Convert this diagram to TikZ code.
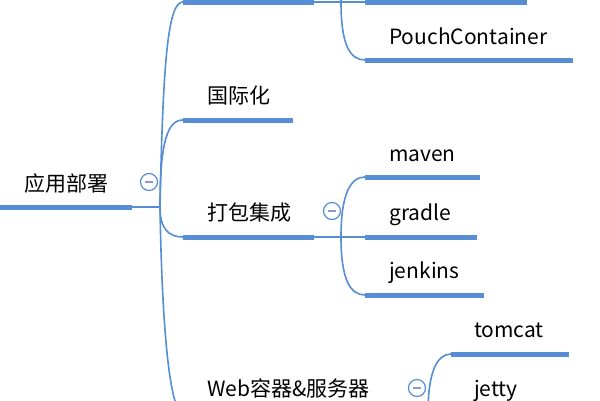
\documentclass[tikz,border=0pt]{standalone}
\usepackage{fontspec}
\setmainfont{Noto Sans CJK SC}
\definecolor{mblue}{RGB}{86,141,212}
\definecolor{mgray}{RGB}{140,155,195}
\begin{document}
\begin{tikzpicture}[x=1pt,y=-1pt,
  lbl/.style={anchor=base west, inner sep=0pt, font=\fontsize{21}{25}\selectfont},
  bar/.style={draw=mblue, line width=5pt},
  link/.style={draw=mblue, line width=1.6pt},
  fold/.style={circle, draw=mblue, line width=1.2pt, fill=white, minimum size=17pt, inner sep=0pt,
    path picture={\draw[mgray,line width=1.5pt] ([xshift=-4pt]path picture bounding box.center) -- ([xshift=4pt]path picture bounding box.center);}}]
\useasboundingbox (0,0) rectangle (600,400);
\begin{scope}
\clip (0,0) rectangle (600,400);
% root
\coordinate (r0) at (0,207);
\coordinate (r1) at (132,207);
\coordinate (rj) at (160,207);
\draw[bar] (r0) -- (r1);
\draw[link] (r1) -- (rj);
\node[lbl] (root) at (24,191) {应用部署};
% top branch
\coordinate (a0) at (183,2);
\coordinate (a1) at (314,2);
\coordinate (aj) at (341,2);
\draw[link] (rj) .. controls (163,60) and (168,2) .. (a0);
\draw[bar] (a0) -- (a1);
\draw[link] (a1) -- (aj);
\coordinate (aa0) at (365,-56);
\coordinate (aa1) at (520,-56);
\coordinate (ab0) at (365,2);
\coordinate (ab1) at (527,2);
\coordinate (ac0) at (365,60);
\coordinate (ac1) at (573,60);
\draw[link] (aj) .. controls (341,-40) and (350,-56) .. (aa0);
\draw[link] (aj) -- (ab0);
\draw[link] (aj) .. controls (341,45) and (350,60) .. (ac0);
\draw[bar] (aa0) -- (aa1);
\draw[bar] (ab0) -- (ab1);
\draw[bar] (ac0) -- (ac1);
\node[lbl] (pouch) at (389,44) {PouchContainer};
% i18n
\coordinate (b0) at (183,120);
\coordinate (b1) at (293,120);
\draw[link] (rj) .. controls (160,140) and (168,120) .. (b0);
\draw[bar] (b0) -- (b1);
\node[lbl] (i18n) at (207,103) {国际化};
% packaging
\coordinate (c0) at (183,237);
\coordinate (c1) at (314,237);
\coordinate (cj) at (341,237);
\draw[link] (rj) .. controls (160,228) and (168,237) .. (c0);
\draw[bar] (c0) -- (c1);
\draw[link] (c1) -- (cj);
\node[lbl] (pack) at (207,220) {打包集成};
\coordinate (ca0) at (365,177);
\coordinate (ca1) at (480,177);
\coordinate (cb0) at (365,237);
\coordinate (cb1) at (477,237);
\coordinate (cc0) at (365,295);
\coordinate (cc1) at (484,295);
\draw[link] (cj) .. controls (341,195) and (350,177) .. (ca0);
\draw[link] (cj) -- (cb0);
\draw[link] (cj) .. controls (341,279) and (350,295) .. (cc0);
\draw[bar] (ca0) -- (ca1);
\draw[bar] (cb0) -- (cb1);
\draw[bar] (cc0) -- (cc1);
\node[lbl] (maven) at (389,161) {maven};
\node[lbl] (gradle) at (389,220) {gradle};
\node[lbl] (jenkins) at (389,278) {jenkins};
% web
\coordinate (d0) at (183,413);
\coordinate (d1) at (400,413);
\coordinate (dj) at (428,413);
\draw[link] (rj) .. controls (162,330) and (170,413) .. (d0);
\draw[bar] (d0) -- (d1);
\draw[link] (d1) -- (dj);
\node[lbl] (web) at (207,396) {Web容器\&服务器};
\coordinate (da0) at (451,354);
\coordinate (da1) at (569,354);
\coordinate (db0) at (451,413);
\coordinate (db1) at (560,413);
\draw[link] (dj) .. controls (428,372) and (437,354) .. (da0);
\draw[link] (dj) -- (db0);
\draw[bar] (da0) -- (da1);
\draw[bar] (db0) -- (db1);
\node[lbl] (tomcat) at (474,337) {tomcat};
\node[lbl] (jetty) at (474,396) {jetty};
% fold markers
\node[fold] (rf) at (149,182) {};
\node[fold] (cf) at (332,211) {};
\node[fold] (df) at (417,388) {};
\end{scope}
\end{tikzpicture}
\end{document}
